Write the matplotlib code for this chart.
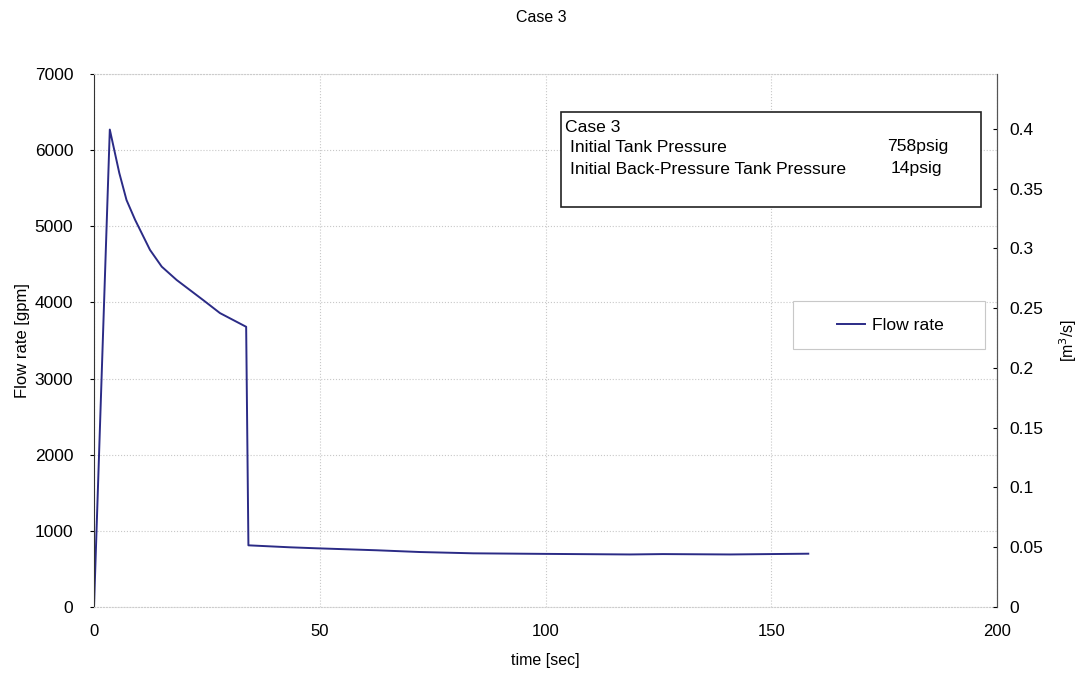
import matplotlib.pyplot as plt

plt.rcParams['font.family'] = ['Liberation Sans', 'DejaVu Sans']

# data
time = [0, 3.5, 5.6, 7.2, 9.1, 12.4, 15.0, 18.3, 24.2, 27.9, 33.7, 34.2,
        43.4, 49.3, 62.6, 72.2, 84.0, 98.8, 118.7, 126.0, 140.9, 158.2]
flow = [0, 6270, 5700, 5345, 5085, 4690, 4470, 4295, 4030, 3860, 3680, 810,
        784, 771, 745, 722, 705, 698, 690, 695, 690, 700]
left_ticks = [0, 1000, 2000, 3000, 4000, 5000, 6000, 7000]
right_ticks = [0, 0.05, 0.1, 0.15, 0.2, 0.25, 0.3, 0.35, 0.4]
x_ticks = [0, 50, 100, 150, 200]

fig = plt.figure(figsize=(10.83, 6.76), dpi=100)
ax = fig.add_axes([94/1083, 1-607/676, 903/1083, 533/676])

line, = ax.plot(time, flow, color='#2b2b86', lw=1.4, label='Flow rate')
ax.set_xlim(0, 200)
ax.set_ylim(0, 7000)
ax.set_xticks(x_ticks)
ax.set_yticks(left_ticks)
ax.grid(True, color='#c8c8c8', ls=':', lw=0.8)
ax.tick_params(axis='y', direction='out', length=3, labelsize=12.5, pad=12)
ax.tick_params(axis='x', length=0, labelsize=12, pad=12)
for s in ['top', 'bottom']:
    ax.spines[s].set_color('#cccccc')
    ax.spines[s].set_linestyle(':')
ax.spines['left'].set_color('#333333')
ax.spines['right'].set_color('#555555')
ax.set_xlabel('time [sec]', fontsize=11.5, labelpad=10)
ax.set_ylabel('Flow rate [gpm]', fontsize=12, labelpad=3)

ax2 = ax.twinx()
ax2.set_ylim(0, 0.446)
ax2.set_yticks(right_ticks)
ax2.set_yticklabels(['%g' % v for v in right_ticks])
ax2.tick_params(axis='y', direction='in', length=3, labelsize=12.5, pad=9)
for s in ['top', 'bottom', 'left']:
    ax2.spines[s].set_visible(False)
ax2.spines['right'].set_color('#555555')
ax2.set_ylabel('[m$^3$/s]', fontsize=11.5, labelpad=10)

fig.text(0.5, 1-18/676, 'Case 3', ha='center', va='center', fontsize=11.5)

# info box
fs = 12.6
box = plt.Rectangle((0.517, 0.750), 0.465, 0.179, transform=ax.transAxes,
                    fill=True, facecolor='white', edgecolor='#222222', lw=1.2, zorder=5)
ax.add_patch(box)
ax.text(0.522, (607-127)/533, 'Case 3', transform=ax.transAxes, fontsize=fs,
        va='center', zorder=6)
ax.text(0.527, (607-147)/533, 'Initial Tank Pressure', transform=ax.transAxes,
        fontsize=fs, va='center', zorder=6)
ax.text((887-94)/903, (607-147)/533, '758psig', transform=ax.transAxes,
        fontsize=fs, va='center', zorder=6)
ax.text(0.527, (607-169)/533, 'Initial Back-Pressure Tank Pressure',
        transform=ax.transAxes, fontsize=fs, va='center', zorder=6)
ax.text((891-94)/903, (607-169)/533, '14psig', transform=ax.transAxes,
        fontsize=fs, va='center', zorder=6)

# legend with its own light frame
frame = plt.Rectangle(((793-94)/903, (607-349)/533), (985-793)/903, 48/533,
                      transform=ax.transAxes, facecolor='white',
                      edgecolor='#c8c8c8', lw=0.8, zorder=5)
ax.add_patch(frame)
leg = ax.legend(handles=[line], loc='center',
                bbox_to_anchor=((890-94)/903, (607-325)/533),
                frameon=False, fontsize=fs, handlelength=1.65,
                handletextpad=0.35, borderpad=0)
leg.set_zorder(6)

fig.savefig('out.png', dpi=100)
